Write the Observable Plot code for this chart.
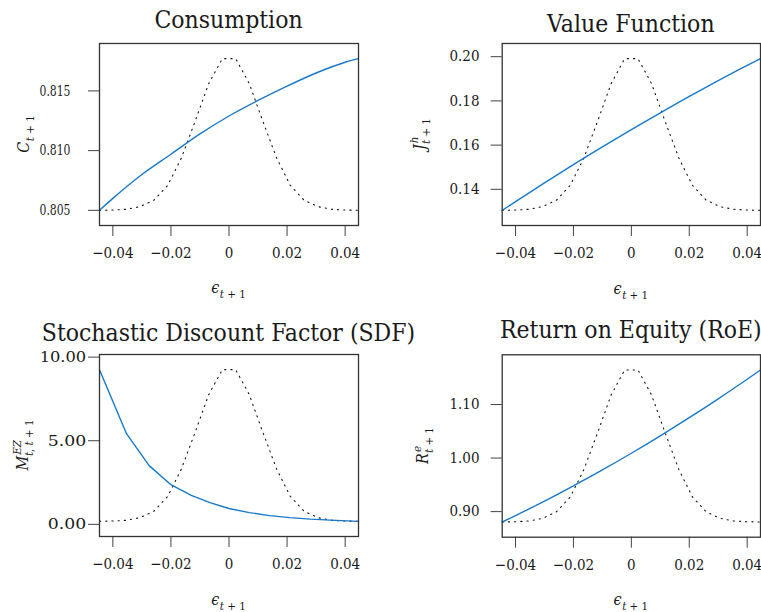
<!DOCTYPE html>
<html>
<head>
<meta charset="utf-8">
<script src="https://cdn.jsdelivr.net/npm/d3@7"></script>
<script src="https://cdn.jsdelivr.net/npm/@observablehq/plot@0.6"></script>
<style>
  body { margin: 0; background: #fff; }
  #fig { position: relative; width: 761px; height: 612px; background: #fff; overflow: hidden; }
  #fig svg { position: absolute; overflow: visible; }
</style>
</head>
<body>
<div id="fig"></div>
<script>
// Shock values at which the policy responses are evaluated
const epsGrid = [-0.0446, -0.04, -0.03, -0.02, -0.01, 0, 0.01, 0.02, 0.03, 0.04, 0.0446];
const consumption = [0.8050, 0.8060, 0.8080, 0.8097, 0.8114, 0.8129, 0.8142, 0.8154, 0.8165, 0.8174, 0.8177];
const valueFunction = [0.1305, 0.1344, 0.1429, 0.1512, 0.1592, 0.1670, 0.1746, 0.1820, 0.1892, 0.1961, 0.1991];
const returnOnEquity = [0.8806, 0.8926, 0.9196, 0.9481, 0.9778, 1.0090, 1.0415, 1.0754, 1.1107, 1.1472, 1.1645];

// The SDF is drawn on its own (coarser) set of nodes
const sdfEps = [-0.0446, -0.0353, -0.0275, -0.0200, -0.0130, -0.0063, 0.0000, 0.0070, 0.0140, 0.0210, 0.0280, 0.0350, 0.0446];
const sdf = [9.25, 5.42, 3.51, 2.37, 1.73, 1.28, 0.95, 0.70, 0.52, 0.40, 0.31, 0.25, 0.18];

// Shock density (rescaled to 0..1), overlaid on every panel
const densityEps = [-0.0446, -0.0399, -0.0352, -0.0305, -0.0258, -0.0211, -0.0164, -0.0117, -0.0070, -0.0023,
                     0.0023,  0.0070,  0.0117,  0.0164,  0.0211,  0.0258,  0.0305,  0.0352,  0.0399,  0.0446];
const shockDensity = [0.000, 0.002, 0.007, 0.025, 0.068, 0.165, 0.345, 0.585, 0.835, 1.000,
                      1.000, 0.835, 0.585, 0.345, 0.165, 0.068, 0.025, 0.007, 0.002, 0.000];

// Axis ticks
const xTicks = [-0.04, -0.02, 0, 0.02, 0.04];
const xTickLabels = ["\u22120.04", "\u22120.02", "0", "0.02", "0.04"];
const consumptionTicks = [0.805, 0.810, 0.815];
const valueTicks = [0.14, 0.16, 0.18, 0.20];
const sdfTicks = [0, 5, 10];
const roeTicks = [0.90, 1.00, 1.10];

const titles = ["Consumption", "Value Function", "Stochastic Discount Factor (SDF)", "Return on Equity (RoE)"];

const FONT = "'DejaVu Serif Condensed', 'DejaVu Serif', serif";
const INK = "#1a1a1a";
const BLUE = "#1979c9";
const H = 306;

// Axis-label symbols: main letter, optional superscript (with its approximate width) and subscript
const panels = [
  { title: titles[0], eps: epsGrid, values: consumption, yTicks: consumptionTicks, fmt: d3.format(".3f"),
    curve: "monotone-x", left: 0, top: 0, width: 380, m: [43, 22, 81, 99], yPad: 18,
    yLen: () => 31, titleY: 27.7, xLabY: 293.3, yLabX: 29,
    yLab: { main: "C", sup: null, supW: 0, sub: "t + 1" } },
  { title: titles[1], eps: epsGrid, values: valueFunction, yTicks: valueTicks, fmt: d3.format(".2f"),
    curve: "monotone-x", left: 380, top: 0, width: 381, m: [43, 1, 81, 121.7], yPad: 11.7,
    yLen: null, titleY: 32.3, xLabY: 294, yLabX: 45,
    yLab: { main: "J", sup: "h", supW: 6.6, sub: "t + 1" } },
  { title: titles[2], eps: sdfEps, values: sdf, yTicks: sdfTicks, fmt: d3.format(".2f"),
    curve: "linear", left: 0, top: 306, width: 380, m: [48, 22, 76, 99], yPad: 2.3,
    yLen: d => d >= 10 ? 46.5 : 38.5, titleY: 34.7, xLabY: 299, yLabX: 28,
    yLab: { main: "M", sup: "EZ", supW: 15, sub: "t, t + 1" } },
  { title: titles[3], eps: epsGrid, values: returnOnEquity, yTicks: roeTicks, fmt: d3.format(".2f"),
    curve: "monotone-x", left: 380, top: 306, width: 381, m: [48.3, 1, 75.3, 121.7], yPad: 11.7,
    yLen: null, titleY: 31.7, xLabY: 299, yLabX: 48,
    yLab: { main: "R", sup: "e", supW: 6.1, sub: "t + 1" } }
];

const fig = document.getElementById("fig");

function drawPanel(p) {
  const lo = d3.min(p.values), hi = d3.max(p.values), pad = 0.1 * (hi - lo);
  const line = p.eps.map((e, i) => ({ e, v: p.values[i] }));
  const dens = densityEps.map((e, i) => ({ e, v: lo + shockDensity[i] * (hi - lo) }));
  const svg = Plot.plot({
    width: p.width, height: H,
    marginTop: p.m[0], marginRight: p.m[1], marginBottom: p.m[2], marginLeft: p.m[3],
    style: { fontFamily: FONT, fontSize: "15px", background: "transparent", color: INK, overflow: "visible" },
    x: { domain: [-0.0446, 0.0446], ticks: xTicks, tickFormat: d => xTickLabels[xTicks.indexOf(d)],
         tickSize: 11, tickPadding: 11, label: null },
    y: { domain: [lo - pad, hi + pad], ticks: p.yTicks, tickFormat: p.fmt,
         tickSize: 11, tickPadding: p.yPad, label: null },
    marks: [
      Plot.line(dens, { x: "e", y: "v", stroke: "#111", strokeWidth: 1.1, strokeDasharray: "1.2,5" }),
      Plot.line(line, { x: "e", y: "v", stroke: BLUE, strokeWidth: 1.4, curve: p.curve }),
      Plot.frame({ stroke: "#333", strokeWidth: 1.3 })
    ]
  });
  svg.style.left = p.left + "px";
  svg.style.top = p.top + "px";
  fig.appendChild(svg);

  const s = d3.select(svg);
  s.selectAll('g[aria-label^="y-axis"] line, g[aria-label^="y-axis"] path, g[aria-label^="x-axis"] line, g[aria-label^="x-axis"] path')
    .attr("stroke", "#444");
  if (p.yLen) {
    s.selectAll('g[aria-label^="y-axis"] text').each(function () {
      const v = +this.textContent;
      this.setAttribute("textLength", p.yLen(v));
      this.setAttribute("lengthAdjust", "spacingAndGlyphs");
    });
  }

  const cx = p.m[3] + (p.width - p.m[3] - p.m[1]) / 2;
  const cy = p.m[0] + (H - p.m[0] - p.m[2]) / 2;

  // panel title
  s.append("text")
    .attr("x", cx).attr("y", p.titleY)
    .attr("text-anchor", "middle")
    .attr("font-family", FONT).attr("font-size", 24.5).attr("fill", INK)
    .text(p.title);

  // x-axis label: epsilon_{t+1}
  mathLabel(s, cx, p.xLabY, 0, { main: "\u03F5", sup: null, supW: 0, sub: "t + 1" });
  // y-axis label, rotated
  mathLabel(s, p.yLabX, cy, -90, p.yLab);
}

// Appends runs of a script string: letters italic, digits and operators upright
function addRuns(t, str, size, first) {
  const runs = str.match(/[A-Za-z]+|[^A-Za-z]+/g);
  runs.forEach((run, i) => {
    const ts = t.append("tspan").attr("font-size", size)
      .attr("font-style", /[A-Za-z]/.test(run) ? "italic" : "normal").text(run);
    if (i === 0) for (const k in first) ts.attr(k, first[k]);
  });
}

// Symbol with optional superscript stacked over a subscript, centred at (x, y)
function mathLabel(s, x, y, angle, lab) {
  const t = s.append("text")
    .attr("transform", `translate(${x},${y}) rotate(${angle})`)
    .attr("text-anchor", "middle")
    .attr("font-family", FONT).attr("fill", INK)
    .style("white-space", "pre");
  t.append("tspan").attr("font-size", 16).attr("font-style", "italic").text(lab.main);
  const S = 11.5, SUP = -7, SUB = 4.5;
  if (lab.sup) {
    addRuns(t, lab.sup, S, { dx: 1, dy: SUP });
    addRuns(t, lab.sub, S, { dx: -lab.supW - 1, dy: SUB - SUP });
  } else {
    addRuns(t, lab.sub, S, { dx: 0.5, dy: SUB });
  }
}

panels.forEach(drawPanel);
</script>
</body>
</html>
